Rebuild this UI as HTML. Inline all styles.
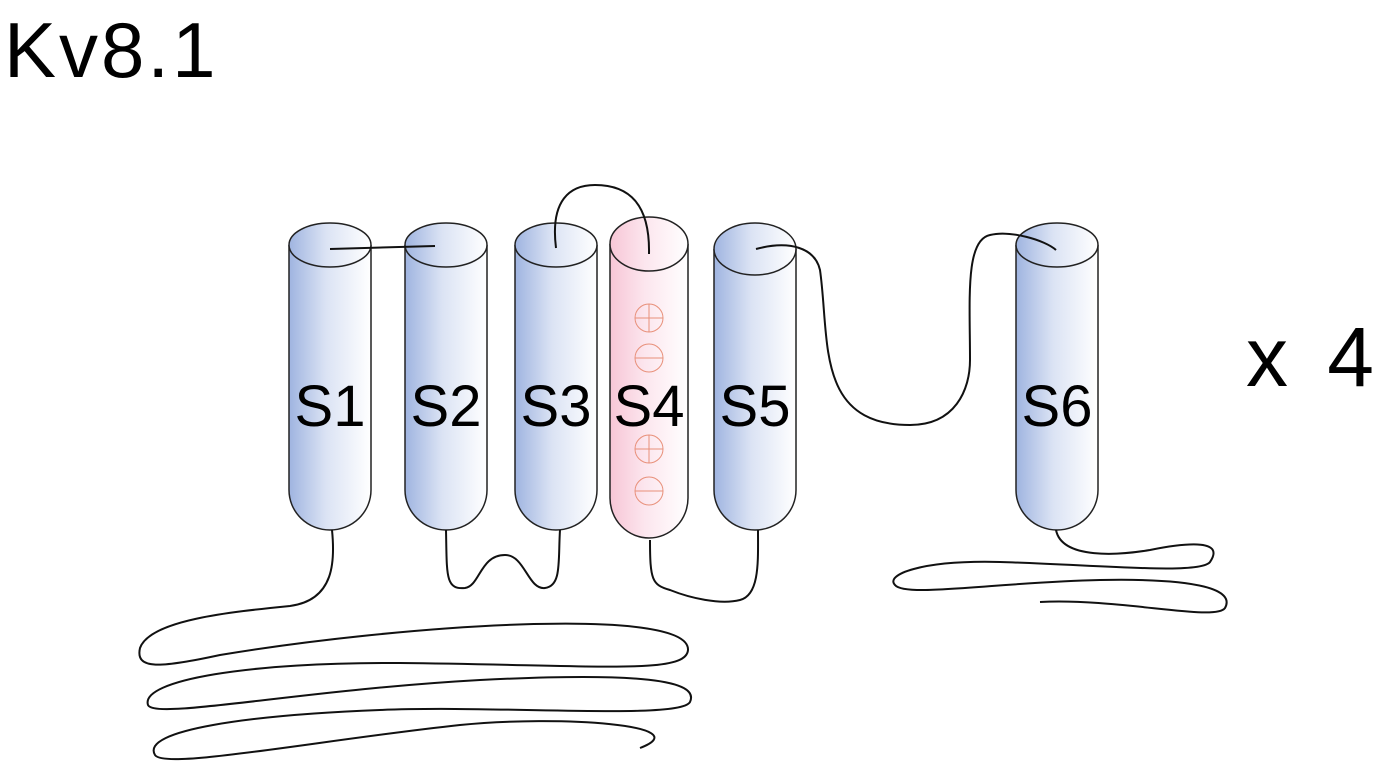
<!DOCTYPE html>
<html><head><meta charset="utf-8"><style>
html,body{margin:0;padding:0;background:#fff;}
svg{display:block;}
text{font-family:"Liberation Sans",Arial,sans-serif;}
</style></head><body>
<svg width="1382" height="765" viewBox="0 0 1382 765" xmlns="http://www.w3.org/2000/svg">
<defs>
<linearGradient id="b" x1="0" x2="1" y1="0" y2="0">
<stop offset="0" stop-color="#9fb4e0"/><stop offset="0.45" stop-color="#dbe3f4"/><stop offset="1" stop-color="#ffffff"/></linearGradient>
<linearGradient id="p" x1="0" x2="1" y1="0" y2="0">
<stop offset="0" stop-color="#f7c6d6"/><stop offset="0.45" stop-color="#fce6ee"/><stop offset="1" stop-color="#ffffff"/></linearGradient>
</defs>
<text x="4" y="77" font-size="78" letter-spacing="3">Kv8.1</text>
<text x="1246" y="386" font-size="84" letter-spacing="6" textLength="134">x 4</text>

<g stroke="#222" stroke-width="1.5">
<path d="M289 245 V490 A41 40 0 0 0 371 490 V245" fill="url(#b)"/>
<ellipse cx="330" cy="245" rx="41" ry="22" fill="url(#b)"/>
<path d="M405 245 V490 A41 40 0 0 0 487 490 V245" fill="url(#b)"/>
<ellipse cx="446" cy="245" rx="41" ry="22" fill="url(#b)"/>
<path d="M515 245 V490 A41 40 0 0 0 597 490 V245" fill="url(#b)"/>
<ellipse cx="556" cy="245" rx="41" ry="22" fill="url(#b)"/>
<path d="M610 244 V498 A39 40 0 0 0 688 498 V244" fill="url(#p)"/>
<ellipse cx="649" cy="244" rx="39" ry="27" fill="url(#p)"/>
<path d="M714 249 V490 A41 40 0 0 0 796 490 V249" fill="url(#b)"/>
<ellipse cx="755" cy="249" rx="41" ry="26" fill="url(#b)"/>
<path d="M1016 245 V490 A41 40 0 0 0 1098 490 V245" fill="url(#b)"/>
<ellipse cx="1057" cy="245" rx="41" ry="22" fill="url(#b)"/>
</g>

<g stroke="#e8907a" stroke-width="1" fill="none">
<circle cx="649" cy="318" r="14"/><line x1="635" y1="318" x2="663" y2="318"/><line x1="649" y1="304" x2="649" y2="332"/>
<circle cx="649" cy="358" r="14"/><line x1="635" y1="358" x2="663" y2="358"/>
<circle cx="649" cy="449" r="14"/><line x1="635" y1="449" x2="663" y2="449"/><line x1="649" y1="435" x2="649" y2="463"/>
<circle cx="649" cy="491" r="14"/><line x1="635" y1="491" x2="663" y2="491"/>
</g>

<g font-size="58" text-anchor="middle" fill="#000">
<text x="330" y="426">S1</text>
<text x="446" y="426">S2</text>
<text x="556" y="426">S3</text>
<text x="649" y="426">S4</text>
<text x="755" y="426">S5</text>
<text x="1057" y="426">S6</text>
</g>

<g stroke="#111" stroke-width="2" fill="none">
<path d="M330 249 L435 246"/>
<path d="M556 248 C550 200 570 185 595 185 C630 185 650 205 649 254"/>
<path d="M756 249 C790 240 815 248 820 270 C830 340 815 425 910 425 C955 425 970 390 970 360 C970 300 965 240 990 235 C1010 230 1045 240 1056 250"/>
<path d="M332 530 C335 560 335 600 290 606 C230 612 150 620 140 648 C135 670 160 668 220 655 C400 625 690 605 688 650 C686 675 600 665 400 663 C250 662 140 680 148 705 C155 720 300 690 480 680 C640 672 700 680 690 702 C680 720 500 705 380 710 C250 715 140 730 155 755 C165 770 320 740 460 725 C560 715 700 725 640 748"/>
<path d="M446 530 C447 575 445 590 465 588 C480 586 480 555 505 555 C525 555 528 590 545 588 C562 586 558 560 560 530"/>
<path d="M650 540 C650 580 652 585 670 590 C690 598 720 605 740 600 C760 595 758 560 758 530"/>
<path d="M1056 530 C1062 560 1120 555 1150 550 C1190 542 1225 540 1210 562 C1200 575 1100 565 1000 562 C920 560 885 575 895 585 C905 598 1000 582 1100 580 C1200 578 1235 590 1225 608 C1215 622 1120 598 1040 602"/>
</g>
</svg>
</body></html>
